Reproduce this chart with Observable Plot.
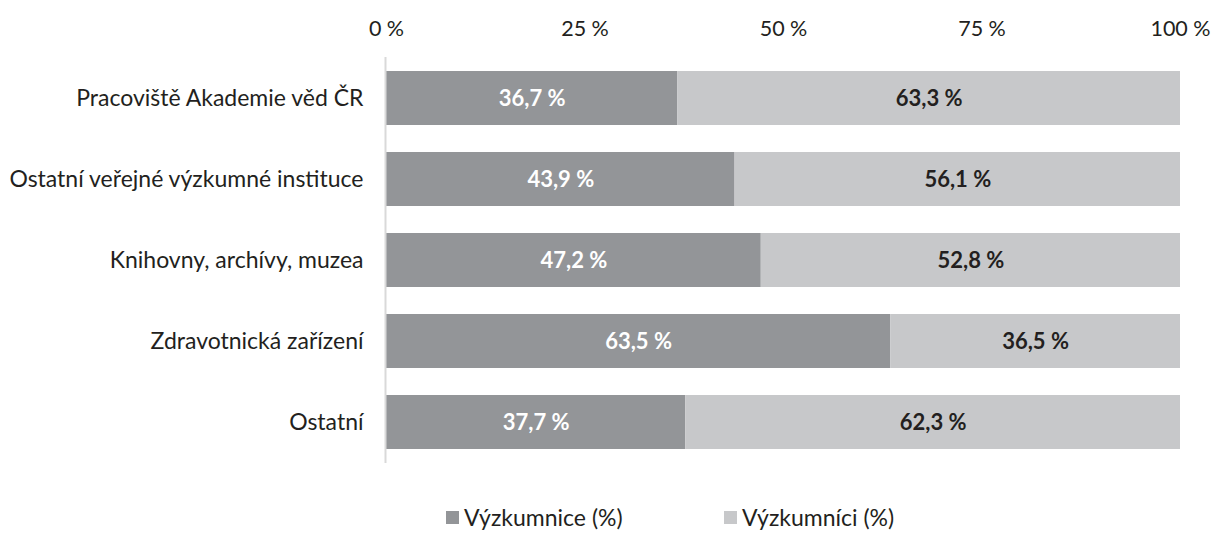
<!DOCTYPE html>
<html><head><meta charset="utf-8">
<script src="https://cdn.jsdelivr.net/npm/d3@7"></script>
<script src="https://cdn.jsdelivr.net/npm/@observablehq/plot@0.6"></script>
<style>
body{margin:0;background:#fff;font-family:Lato,"Open Sans",sans-serif;color:#231f20;}
#legend{height:41px;font-size:23px;position:relative;}
.item{display:flex;align-items:center;position:absolute;}
.sw{width:13px;height:13px;display:inline-block;margin-right:5px;}
</style></head>
<body><div id="chart"></div><div id="legend"></div>
<script>
const categories = ["Pracoviště Akademie věd ČR","Ostatní veřejné výzkumné instituce","Knihovny, archívy, muzea","Zdravotnická zařízení","Ostatní"];
const women = [36.7, 43.9, 47.2, 63.5, 37.7];
const men = [63.3, 56.1, 52.8, 36.5, 62.3];
const seriesNames = ["Výzkumnice (%)","Výzkumníci (%)"];
const seriesColors = ["#939598","#c7c8ca"];
const labelColors = ["#ffffff","#231f20"];
const xTicks = [0,25,50,75,100];

const table = [];
categories.forEach((c,i)=>{
  table.push({cat:c, series:seriesNames[0], value:women[i]});
  table.push({cat:c, series:seriesNames[1], value:men[i]});
});
const fmt = v => v.toFixed(1).replace(".", ",") + " %";

const plot = Plot.plot({
  width:1216, height:495,
  marginLeft:386, marginRight:36, marginTop:57, marginBottom:32,
  style:{fontFamily:"Lato, 'Open Sans', sans-serif", fontSize:"23px", color:"#231f20", background:"#fff"},
  x:{domain:[0,100], axis:null},
  y:{domain:categories, paddingInner:0.335, paddingOuter:0.1675, axis:null},
  color:{domain:seriesNames, range:seriesColors},
  marks:[
    Plot.axisX(xTicks, {anchor:"top", tickSize:0, tickPadding:22, tickFormat:d=>d+" %", label:null, fontSize:21.5}),
    Plot.axisY({tickSize:0, tickPadding:23, label:null, fontSize:23}),
    Plot.barX(table, Plot.stackX({x:"value", y:"cat", fill:"series", order:seriesNames})),
    Plot.ruleX([0], {stroke:"#d9d9d9", strokeWidth:2, dx:-1}),
    Plot.text(table, Plot.stackX({x:"value", y:"cat", z:"series", order:seriesNames,
      text:d=>fmt(d.value), fill:d=>labelColors[seriesNames.indexOf(d.series)],
      fontWeight:"bold", fontSize:22}))
  ]
});
document.getElementById("chart").appendChild(plot);

const leg = document.getElementById("legend");
const lefts = [446, 724];
seriesNames.forEach((s,i)=>{
  const it = document.createElement("div");
  it.className="item"; it.style.left = lefts[i]+"px"; it.style.top="8px";
  it.innerHTML = `<span class="sw" style="background:${seriesColors[i]}"></span><span>${s}</span>`;
  leg.appendChild(it);
});
</script></body></html>
